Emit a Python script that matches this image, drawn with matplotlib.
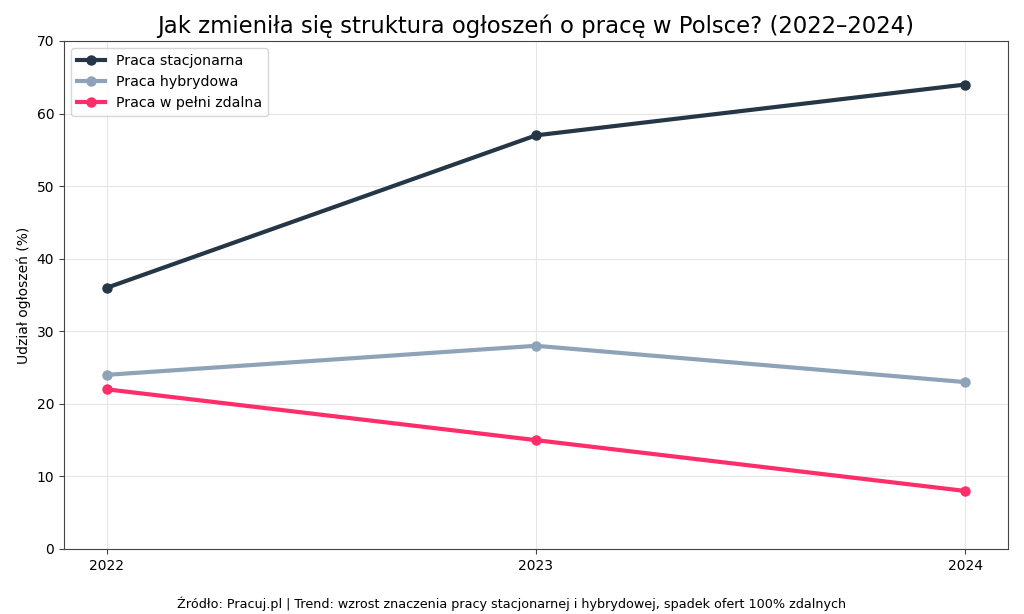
import matplotlib
matplotlib.use("Agg")
import matplotlib.pyplot as plt

years = [2022, 2023, 2024]
stacjonarna = [36, 57, 64]
hybrydowa = [24, 28, 23]
zdalna = [22, 15, 8]

labels = ["Praca stacjonarna", "Praca hybrydowa", "Praca w pełni zdalna"]
colors = ["#253746", "#8fa3b8", "#ff2d6a"]

fig = plt.figure(figsize=(10.24, 6.14), dpi=100)
ax = fig.add_axes([64/1024, 1-549/614, (1008-64)/1024, (549-41)/614])

for vals, lab, col in zip([stacjonarna, hybrydowa, zdalna], labels, colors):
    ax.plot(years, vals, color=col, linewidth=3, marker="o", markersize=6.5, label=lab)

ax.set_xlim(2021.9, 2024.1)
ax.set_ylim(0, 70)
ax.set_xticks(years)
ax.set_xticklabels([str(y) for y in years])
ax.grid(True, color="#e6e6e6", linewidth=0.8)
ax.set_axisbelow(True)
for s in ax.spines.values():
    s.set_color("#444444")
ax.tick_params(colors="#444444", labelcolor="black", labelsize=10)
ax.set_ylabel("Udział ogłoszeń (%)", fontsize=10)
ax.set_title("Jak zmieniła się struktura ogłoszeń o pracę w Polsce? (2022–2024)", fontsize=16.4, pad=6)
ax.legend(loc="upper left", fontsize=10.2)

fig.text(0.5, 1-604/614, "Źródło: Pracuj.pl | Trend: wzrost znaczenia pracy stacjonarnej i hybrydowej, spadek ofert 100% zdalnych",
         ha="center", va="center", fontsize=9.2)

fig.savefig("out.png", dpi=100)
